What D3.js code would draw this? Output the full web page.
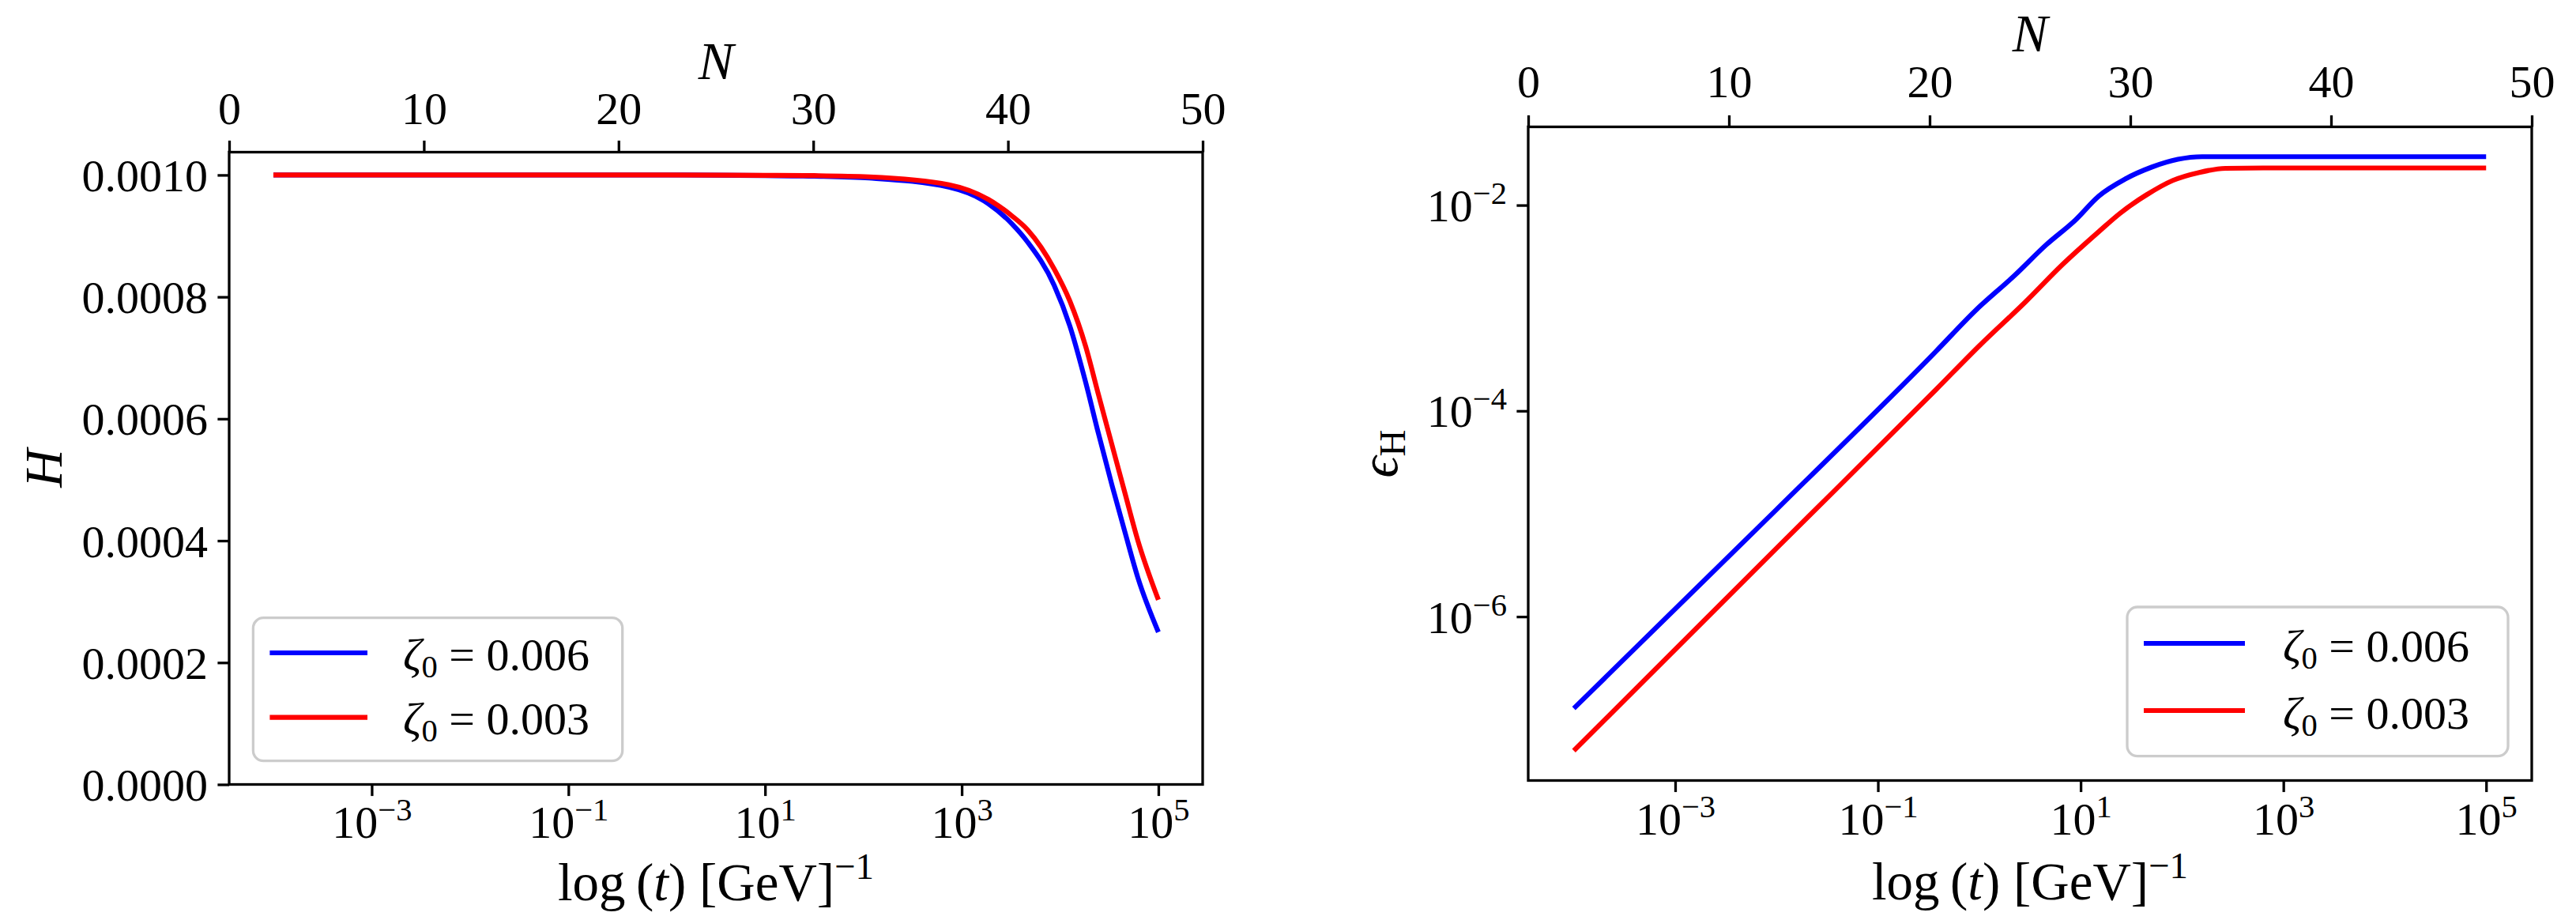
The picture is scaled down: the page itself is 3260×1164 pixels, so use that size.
<!DOCTYPE html>
<html><head><meta charset="utf-8">
<script src="https://cdn.jsdelivr.net/npm/d3@7"></script>
<style>
body{margin:0;background:#fff}
text{font-family:"Liberation Serif","DejaVu Serif",serif;fill:#000}
</style>
</head><body>
<svg id="c" width="3260" height="1164" xmlns="http://www.w3.org/2000/svg"></svg>
<script>
// ---------------- data ----------------
const seriesNames = ["0.006", "0.003"];
const seriesColors = ["#0000ff", "#ff0000"];

// Left panel: H vs t
const tH = [1e-4, 1e-2, 1, 10, 31.6, 115, 741, 1862, 3236, 4677, 8710, 12590, 18200, 24550, 33880, 45710, 61660, 1e5];
const H_006 = [0.001, 0.001, 0.001, 0.000999, 0.000998, 0.000995, 0.000980, 0.000953, 0.000920, 0.000890, 0.000819, 0.000752, 0.000660, 0.000576, 0.000490, 0.000414, 0.000340, 0.000250];
const H_003 = [0.001, 0.001, 0.001, 0.0009995, 0.000999, 0.000997, 0.000984, 0.000960, 0.000933, 0.000910, 0.000846, 0.000793, 0.000719, 0.000640, 0.000556, 0.000478, 0.000401, 0.000303];

// Right panel: epsilon_H vs t
const tEps006 = [1e-4, 1e-2, 0.372, 0.912, 2.24, 4.57, 8.91, 15.1, 27.5, 50.1, 91.2, 158, 1e3, 1e5];
const eps006 = [1.28e-7, 1.10e-5, 3.77e-4, 9.40e-4, 2.08e-3, 4.11e-3, 7.19e-3, 1.225e-2, 1.795e-2, 2.34e-2, 2.79e-2, 2.96e-2, 2.96e-2, 2.96e-2];
const tEps003 = [1e-4, 1e-2, 0.372, 1.02, 2.88, 6.61, 15.1, 24.5, 44.7, 81.3, 148, 269, 631, 1e5];
const eps003 = [4.97e-8, 4.62e-6, 1.60e-4, 4.37e-4, 1.156e-3, 2.64e-3, 5.52e-3, 8.34e-3, 1.26e-2, 1.74e-2, 2.08e-2, 2.28e-2, 2.30e-2, 2.30e-2];

// axes
const tDomain = [3.55e-5, 2.82e5];
const tTicks = [1e-3, 1e-1, 1e1, 1e3, 1e5];
const tTickExp = ["\u22123", "\u22121", "1", "3", "5"];
const nDomain = [0, 50];
const nTicks = [0, 10, 20, 30, 40, 50];
const hDomain = [0, 0.0010375];
const hTicks = [0, 0.0002, 0.0004, 0.0006, 0.0008, 0.0010];
const hTickLabels = ["0.0000", "0.0002", "0.0004", "0.0006", "0.0008", "0.0010"];
const epsDomain = [2.55e-8, 5.77e-2];
const epsTicks = [1e-6, 1e-4, 1e-2];
const epsTickExp = ["\u22126", "\u22124", "\u22122"];

// ---------------- drawing ----------------
const svg = d3.select("#c");
const FS = 58, LFS = 67, LW = 3.3, TL = 14.6;

function sci(textSel, exp, fs) {
  textSel.append("tspan").text("10");
  textSel.append("tspan").attr("dy", -0.38 * fs).attr("font-size", fs * 0.7).text(exp);
}

function panel(P) {
  const g = svg.append("g");
  const x = d3.scaleLog().domain(tDomain).range([P.x0, P.x1]);
  const xN = d3.scaleLinear().domain(nDomain).range([P.x0, P.x1]);
  const y = P.yScale.range([P.y1, P.y0]);

  // lines
  P.series.forEach((s, i) => {
    const line = d3.line().x(d => x(d[0])).y(d => y(d[1])).curve(d3.curveMonotoneX);
    g.append("path").datum(d3.zip(s.t, s.v))
      .attr("d", line).attr("fill", "none").attr("stroke", seriesColors[i])
      .attr("stroke-width", 6.2).attr("stroke-linejoin", "round");
  });

  // bottom axis
  const bx = g.append("g").attr("transform", `translate(0,${P.y1})`)
    .call(d3.axisBottom(x).tickValues(tTicks).tickSize(TL).tickFormat(() => ""));
  bx.select(".domain").remove();
  bx.selectAll(".tick line").attr("stroke-width", LW);
  bx.selectAll(".tick text").remove();
  bx.selectAll(".tick").each(function(d, i) {
    const t = d3.select(this).append("text").attr("y", P.bxOff).attr("text-anchor", "middle").attr("font-size", FS);
    sci(t, tTickExp[i], FS);
  });

  // top axis (N)
  const tx = g.append("g").attr("transform", `translate(0,${P.y0})`)
    .call(d3.axisTop(xN).tickValues(nTicks).tickSize(TL).tickFormat(d3.format("d")));
  tx.select(".domain").remove();
  tx.selectAll(".tick line").attr("stroke-width", LW);
  tx.selectAll(".tick text").attr("font-size", FS).attr("fill", "#000")
    .attr("font-family", '"Liberation Serif","DejaVu Serif",serif')
    .attr("y", -P.txOff).attr("dy", 0);

  // left axis
  const ly = g.append("g").attr("transform", `translate(${P.x0},0)`)
    .call(d3.axisLeft(y).tickValues(P.yTicks).tickSize(TL).tickFormat(() => ""));
  ly.select(".domain").remove();
  ly.selectAll(".tick line").attr("stroke-width", LW);
  ly.selectAll(".tick text").remove();
  ly.selectAll(".tick").each(function(d, i) {
    const t = d3.select(this).append("text").attr("x", -27).attr("y", 20)
      .attr("text-anchor", "end").attr("font-size", FS);
    if (P.yLog) sci(t, P.yTickExp[i], FS); else t.text(P.yTickLabels[i]);
  });

  // frame
  g.append("rect").attr("x", P.x0).attr("y", P.y0).attr("width", P.x1 - P.x0).attr("height", P.y1 - P.y0)
    .attr("fill", "none").attr("stroke", "#000").attr("stroke-width", LW);

  // top label N
  g.append("text").attr("x", (P.x0 + P.x1) / 2).attr("y", P.nBase).attr("text-anchor", "middle")
    .attr("font-size", LFS).attr("font-style", "italic").text("N");

  // x label
  const xl = g.append("text").attr("x", (P.x0 + P.x1) / 2).attr("y", P.xlBase)
    .attr("text-anchor", "middle").attr("font-size", LFS);
  xl.append("tspan").text("log\u2009(");
  xl.append("tspan").attr("font-style", "italic").text("t");
  xl.append("tspan").text(")\u2005[GeV]");
  xl.append("tspan").attr("dy", -0.4 * LFS).attr("font-size", LFS * 0.7).text("\u22121");

  // y label
  const yl = g.append("text").attr("transform", `translate(${P.ylX},${(P.y0 + P.y1) / 2}) rotate(-90)`)
    .attr("text-anchor", "middle").attr("font-size", LFS);
  P.ylab(yl);

  // legend
  const L = P.legend;
  g.append("rect").attr("x", L.x).attr("y", L.y).attr("width", L.w).attr("height", L.h)
    .attr("rx", 13).attr("ry", 13).attr("fill", "#fff").attr("fill-opacity", 0.8)
    .attr("stroke", "#cccccc").attr("stroke-width", LW);
  seriesNames.forEach((nm, i) => {
    const ly0 = L.lineY[i];
    g.append("line").attr("x1", L.lx0).attr("x2", L.lx1).attr("y1", ly0).attr("y2", ly0)
      .attr("stroke", seriesColors[i]).attr("stroke-width", 6.2);
    const t = g.append("text").attr("x", L.tx).attr("y", ly0 + L.base).attr("font-size", FS);
    t.append("tspan").attr("font-style", "italic").text("\u03b6");
    t.append("tspan").attr("font-size", FS * 0.7).attr("dy", 9).text("0");
    t.append("tspan").attr("dy", -9).text("\u2005=\u2005" + nm);
  });
}

panel({
  x0: 290, x1: 1522, y0: 192.5, y1: 992.5,
  yScale: d3.scaleLinear().domain(hDomain), yTicks: hTicks, yTickLabels: hTickLabels, yLog: false,
  series: [{t: tH, v: H_006}, {t: tH, v: H_003}],
  bxOff: 67.5, txOff: 36, nBase: 100, xlBase: 1139, ylX: 78,
  ylab: t => t.append("tspan").attr("font-style", "italic").text("H"),
  legend: {x: 320.4, y: 781.7, w: 467.3, h: 181, lx0: 341.4, lx1: 465, lineY: [826, 907.7], tx: 510, base: 21.5}
});

panel({
  x0: 1934, x1: 3204, y0: 160.5, y1: 987.5,
  yScale: d3.scaleLog().domain(epsDomain), yTicks: epsTicks, yTickExp: epsTickExp, yLog: true,
  series: [{t: tEps006, v: eps006}, {t: tEps003, v: eps003}],
  bxOff: 68.5, txOff: 38, nBase: 65, xlBase: 1138, ylX: 1768,
  ylab: t => {
    t.append("tspan").attr("font-style", "italic").text("\u03f5");
    t.append("tspan").attr("font-size", LFS * 0.7).attr("dy", 10).text("H");
  },
  legend: {x: 2692, y: 768, w: 482, h: 188.7, lx0: 2713, lx1: 2841, lineY: [814, 899], tx: 2889, base: 22.5}
});
</script>
</body></html>
